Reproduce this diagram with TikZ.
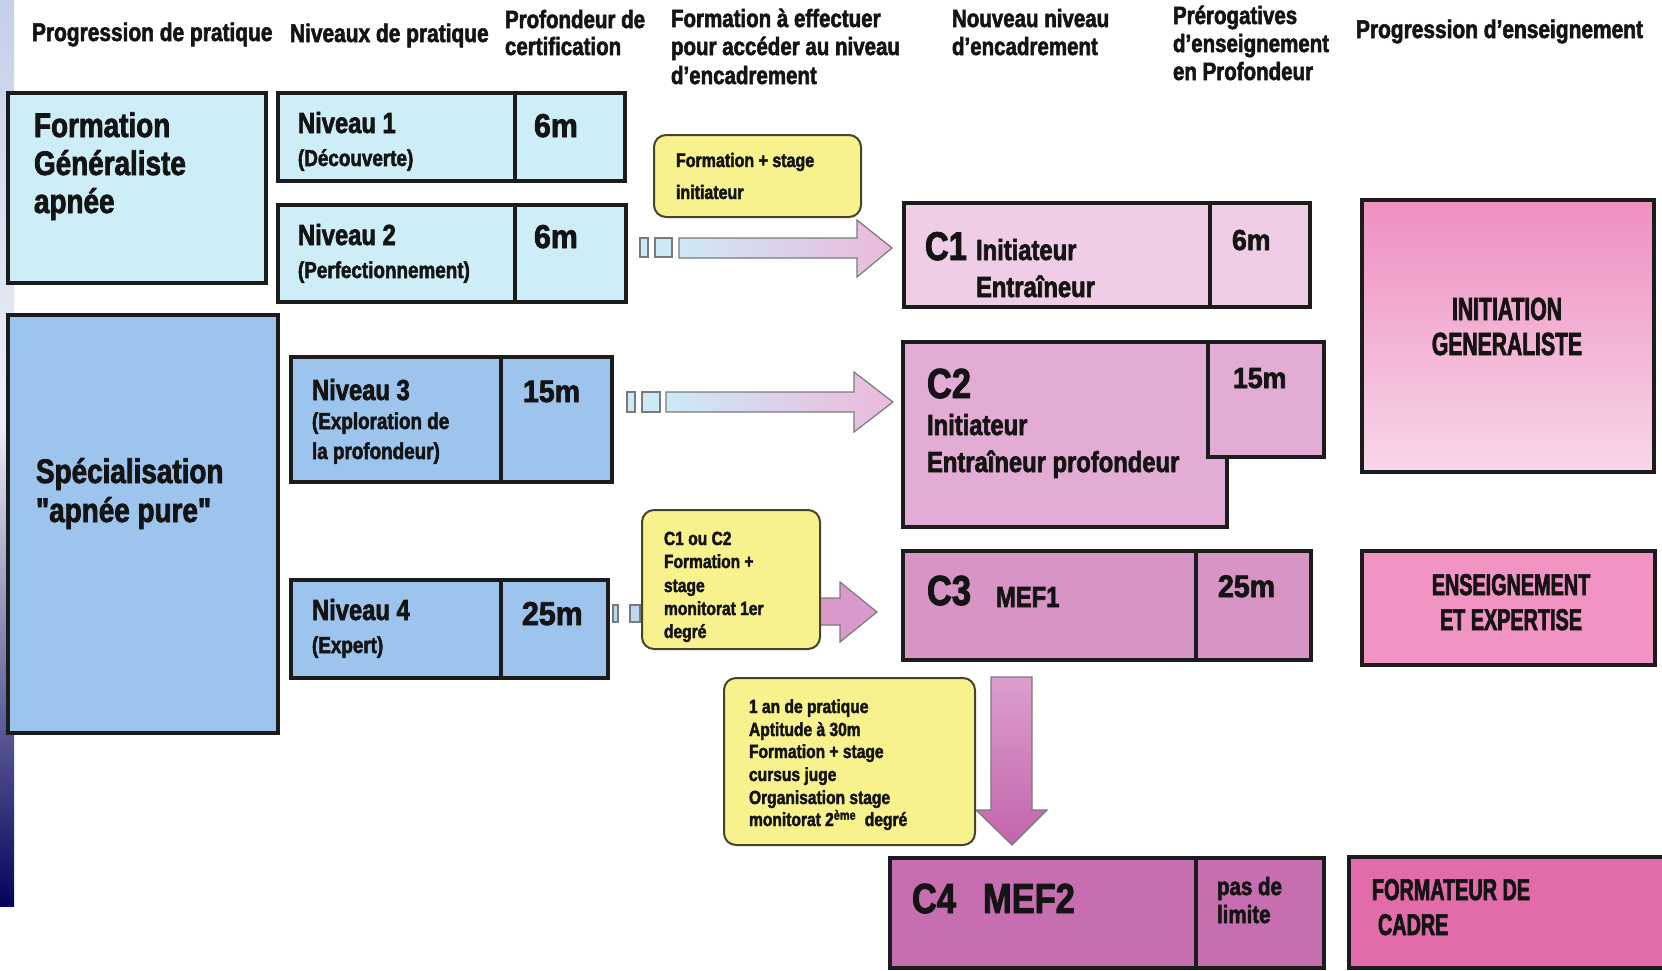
\documentclass[tikz,border=0pt]{standalone}
\usepackage{fontspec}
\newfontfamily\fm{Liberation Sans Bold}[FakeStretch=0.82,FakeBold=2.2]
\newfontfamily\fcaps{Liberation Sans Bold}[FakeStretch=0.66,FakeBold=2.2]
\newfontfamily\fnum{Liberation Sans Bold}[FakeStretch=0.92,FakeBold=2.2]
\newcommand\fsz[1]{\fontsize{#1}{#1}\selectfont}
\definecolor{cyanL}{HTML}{CDEEF7}
\definecolor{blueM}{HTML}{9DC4EC}
\definecolor{blueS}{HTML}{BCD8F2}
\definecolor{yel}{HTML}{F8F28E}
\definecolor{callb}{HTML}{45452C}
\definecolor{bord}{HTML}{1C1C1C}
\definecolor{pC1}{HTML}{F0CDE6}
\definecolor{pC2}{HTML}{E2ACD4}
\definecolor{pC3}{HTML}{D795C6}
\definecolor{pC4}{HTML}{C66EAF}
\definecolor{pInitT}{HTML}{EE8FC0}
\definecolor{pInitB}{HTML}{F8D6E9}
\definecolor{pEns}{HTML}{F193C3}
\definecolor{pForm}{HTML}{E26BAA}
\definecolor{arrL}{HTML}{CDE9F5}
\definecolor{arrM}{HTML}{E4DDEE}
\definecolor{arrR}{HTML}{EBB9DC}
\definecolor{arrP}{HTML}{D99ACB}
\definecolor{arrDT}{HTML}{DC9ECD}
\definecolor{arrDB}{HTML}{C264AC}
\definecolor{arrOut}{HTML}{7A7A7A}
\definecolor{txtc}{HTML}{141414}
\definecolor{stripA}{HTML}{C4CFE9}
\definecolor{stripB}{HTML}{EEF0F8}
\definecolor{stripC}{HTML}{7878B8}
\definecolor{stripD}{HTML}{04045C}
\newcommand\bx[6]{\node[#6, minimum width={(#4)-(#2)}, minimum height={(#5)-(#3)}] (#1) at (#2,#3) {};}
\newcommand\tx[5]{\node[txt,font=#4] (#1) at (#2,#3) {#5};}
\newcommand\tc[5]{\node[txtc,font=#4] (#1) at (#2,#3) {#5};}
\begin{document}
\begin{tikzpicture}[x=1pt,y=-1pt,
  box/.style={draw=bord, line width=3.5pt, inner sep=0pt, outer sep=0pt, anchor=north west},
  callout/.style={draw=callb, fill=yel, line width=2pt, rounded corners=12pt, inner sep=0pt, outer sep=0pt, anchor=north west},
  sqbox/.style={draw=arrOut, line width=1.2pt, inner sep=0pt, outer sep=0pt, anchor=north west, fill=arrL},
  blockarrow/.style={draw=arrOut, line width=1.2pt, line join=miter},
  txt/.style={inner sep=0pt, outer sep=0pt, anchor=base west, text=txtc},
  txtc/.style={inner sep=0pt, outer sep=0pt, anchor=base, text=txtc}]
\useasboundingbox (0,0) rectangle (1662,970);
\fill[white] (0,0) rectangle (1662,970);
% left strip
\shade[top color=stripA, bottom color=stripB] (0,0) rectangle (14,420);
\shade[top color=stripB, middle color=stripC, bottom color=stripD] (0,420) rectangle (14,906);

% left column boxes
\bx{fg}{8}{93}{266}{283}{box, fill=cyanL}
\bx{sp}{8}{315}{278}{733}{box, fill=blueM}
% niveau boxes
\bx{n1L}{278}{93}{515}{181}{box, fill=cyanL}
\bx{n1R}{515}{93}{625}{181}{box, fill=cyanL}
\bx{n2L}{278}{205}{515}{302}{box, fill=cyanL}
\bx{n2R}{515}{205}{626}{302}{box, fill=cyanL}
\bx{n3L}{291}{357}{501}{482}{box, fill=blueM}
\bx{n3R}{501}{357}{612}{482}{box, fill=blueM}
\bx{n4L}{291}{580}{501}{678}{box, fill=blueM}
\bx{n4R}{501}{580}{608}{678}{box, fill=blueM}
% encadrement boxes
\bx{c1L}{904}{203}{1210}{307}{box, fill=pC1}
\bx{c1R}{1210}{203}{1310}{307}{box, fill=pC1}
\bx{c2L}{903}{342}{1227}{527}{box, fill=pC2}
\bx{c2R}{1208}{342}{1324}{457}{box, fill=pC2}
\bx{c3L}{903}{551}{1196}{660}{box, fill=pC3}
\bx{c3R}{1196}{551}{1311}{660}{box, fill=pC3}
\bx{c4L}{890}{858}{1196}{968}{box, fill=pC4}
\bx{c4R}{1196}{858}{1324}{968}{box, fill=pC4}
% right column
\bx{rInit}{1362}{200}{1654}{472}{box, top color=pInitT, bottom color=pInitB}
\bx{rEns}{1362}{551}{1655}{665}{box, fill=pEns}
\bx{rForm}{1349}{857}{1666}{968}{box, fill=pForm}

% arrow A : niveau 2 -> C1
\bx{qa1}{640}{238}{648}{257}{sqbox}
\bx{qa2}{655}{238}{672}{257}{sqbox}
\path[blockarrow, left color=arrL, middle color=arrM, right color=arrR]
  (679,238) -- (857,238) -- (857,220) -- (892,248) -- (857,277) -- (857,258) -- (679,258) -- cycle;
% arrow B : niveau 3 -> C2
\bx{qb1}{627}{392}{635}{412}{sqbox}
\bx{qb2}{642}{392}{660}{412}{sqbox}
\path[blockarrow, left color=arrL, middle color=arrM, right color=arrR]
  (666,392) -- (854,392) -- (854,372) -- (893,402) -- (854,432) -- (854,412) -- (666,412) -- cycle;
% arrow C : niveau 4 -> C3
\bx{qc1}{613}{605}{618}{622}{sqbox, fill=blueS}
\bx{qc2}{630}{605}{640}{622}{sqbox, fill=blueS}
\path[blockarrow, fill=arrP]
  (800,598) -- (840,598) -- (840,582) -- (877,612) -- (840,642) -- (840,625) -- (800,625) -- cycle;
% arrow D : C3 -> C4
\path[blockarrow, top color=arrDT, bottom color=arrDB]
  (991,677) -- (1032,677) -- (1032,810) -- (1047,810) -- (1012,845) -- (976,810) -- (991,810) -- cycle;

% callouts
\bx{y1}{654}{135}{861}{217}{callout}
\bx{y2}{642}{510}{820}{649}{callout}
\bx{y3}{724}{678}{975}{845}{callout}

% headers
\tx{h1}{32}{41}{\fm\fsz{25.5}}{Progression de pratique}
\tx{h2}{290}{42}{\fm\fsz{25.5}}{Niveaux de pratique}
\tx{h3a}{505}{28}{\fm\fsz{25}}{Profondeur de}
\tx{h3b}{505}{55}{\fm\fsz{25}}{certification}
\tx{h4a}{671}{27}{\fm\fsz{25}}{Formation à effectuer}
\tx{h4b}{671}{55}{\fm\fsz{25}}{pour accéder au niveau}
\tx{h4c}{671}{84}{\fm\fsz{25}}{d’encadrement}
\tx{h5a}{952}{27}{\fm\fsz{25}}{Nouveau niveau}
\tx{h5b}{952}{55}{\fm\fsz{25}}{d’encadrement}
\tx{h6a}{1173}{24}{\fm\fsz{25}}{Prérogatives}
\tx{h6b}{1173}{52}{\fm\fsz{25}}{d’enseignement}
\tx{h6c}{1173}{80}{\fm\fsz{25}}{en Profondeur}
\tx{h7}{1356}{38}{\fm\fsz{25.5}}{Progression d’enseignement}

% left column texts
\tx{fga}{34}{137}{\fm\fsz{34}}{Formation}
\tx{fgb}{34}{175}{\fm\fsz{34}}{Généraliste}
\tx{fgc}{34}{213}{\fm\fsz{34}}{apnée}
\tx{spa}{36}{483}{\fm\fsz{34}}{Spécialisation}
\tx{spb}{36}{522}{\fm\fsz{34}}{"apnée pure"}

% niveau texts
\tx{n1a}{298}{133}{\fm\fsz{29}}{Niveau 1}
\tx{n1b}{298}{166}{\fm\fsz{23}}{(Découverte)}
\tx{n1m}{534}{137}{\fnum\fsz{33}}{6m}
\tx{n2a}{298}{245}{\fm\fsz{29}}{Niveau 2}
\tx{n2b}{298}{278}{\fm\fsz{23}}{(Perfectionnement)}
\tx{n2m}{534}{248}{\fnum\fsz{33}}{6m}
\tx{n3a}{312}{400}{\fm\fsz{29}}{Niveau 3}
\tx{n3b}{312}{429}{\fm\fsz{23}}{(Exploration de}
\tx{n3c}{312}{459}{\fm\fsz{23}}{la profondeur)}
\tx{n3m}{523}{402}{\fnum\fsz{31}}{15m}
\tx{n4a}{312}{620}{\fm\fsz{29}}{Niveau 4}
\tx{n4b}{312}{653}{\fm\fsz{23}}{(Expert)}
\tx{n4m}{522}{625}{\fnum\fsz{33}}{25m}

% callout texts
\tx{y1a}{676}{167}{\fm\fsz{19.5}}{Formation + stage}
\tx{y1b}{676}{199}{\fm\fsz{19.5}}{initiateur}
\tx{y2a}{664}{545}{\fm\fsz{19}}{C1 ou C2}
\tx{y2b}{664}{568}{\fm\fsz{19}}{Formation +}
\tx{y2c}{664}{592}{\fm\fsz{19}}{stage}
\tx{y2d}{664}{615}{\fm\fsz{19}}{monitorat 1er}
\tx{y2e}{664}{638}{\fm\fsz{19}}{degré}
\tx{y3a}{749}{713}{\fm\fsz{19}}{1 an de pratique}
\tx{y3b}{749}{736}{\fm\fsz{19}}{Aptitude à 30m}
\tx{y3c}{749}{758}{\fm\fsz{19}}{Formation + stage}
\tx{y3d}{749}{781}{\fm\fsz{19}}{cursus juge}
\tx{y3e}{749}{804}{\fm\fsz{19}}{Organisation stage}
\tx{y3f}{749}{826}{\fm\fsz{19}}{monitorat 2\textsuperscript{ème}\ \ degré}

% encadrement texts
\tx{c1a}{925}{260}{\fm\fsz{40}}{C1}
\tx{c1b}{976}{260}{\fm\fsz{29}}{Initiateur}
\tx{c1c}{976}{297}{\fm\fsz{29}}{Entraîneur}
\tx{c1m}{1232}{250}{\fnum\fsz{29}}{6m}
\tx{c2a}{927}{398}{\fm\fsz{42}}{C2}
\tx{c2b}{927}{435}{\fm\fsz{29}}{Initiateur}
\tx{c2c}{927}{472}{\fm\fsz{29}}{Entraîneur profondeur}
\tx{c2m}{1233}{388}{\fnum\fsz{29}}{15m}
\tx{c3a}{927}{605}{\fm\fsz{42}}{C3}
\tx{c3b}{996}{607}{\fm\fsz{29}}{MEF1}
\tx{c3m}{1218}{597}{\fnum\fsz{31}}{25m}
\tx{c4a}{912}{913}{\fm\fsz{42}}{C4}
\tx{c4b}{983}{913}{\fm\fsz{42}}{MEF2}
\tx{c4m}{1217}{895}{\fm\fsz{25}}{pas de}
\tx{c4n}{1217}{923}{\fm\fsz{25}}{limite}

% right column texts
\tc{ria}{1507}{320}{\fcaps\fsz{32}}{INITIATION}
\tc{rib}{1507}{355}{\fcaps\fsz{32}}{GENERALISTE}
\tc{rea}{1511}{595}{\fcaps\fsz{30}}{ENSEIGNEMENT}
\tc{reb}{1511}{630}{\fcaps\fsz{30}}{ET EXPERTISE}
\tx{rfa}{1372}{900}{\fcaps\fsz{30}}{FORMATEUR DE}
\tx{rfb}{1378}{935}{\fcaps\fsz{30}}{CADRE}
\end{tikzpicture}
\end{document}
